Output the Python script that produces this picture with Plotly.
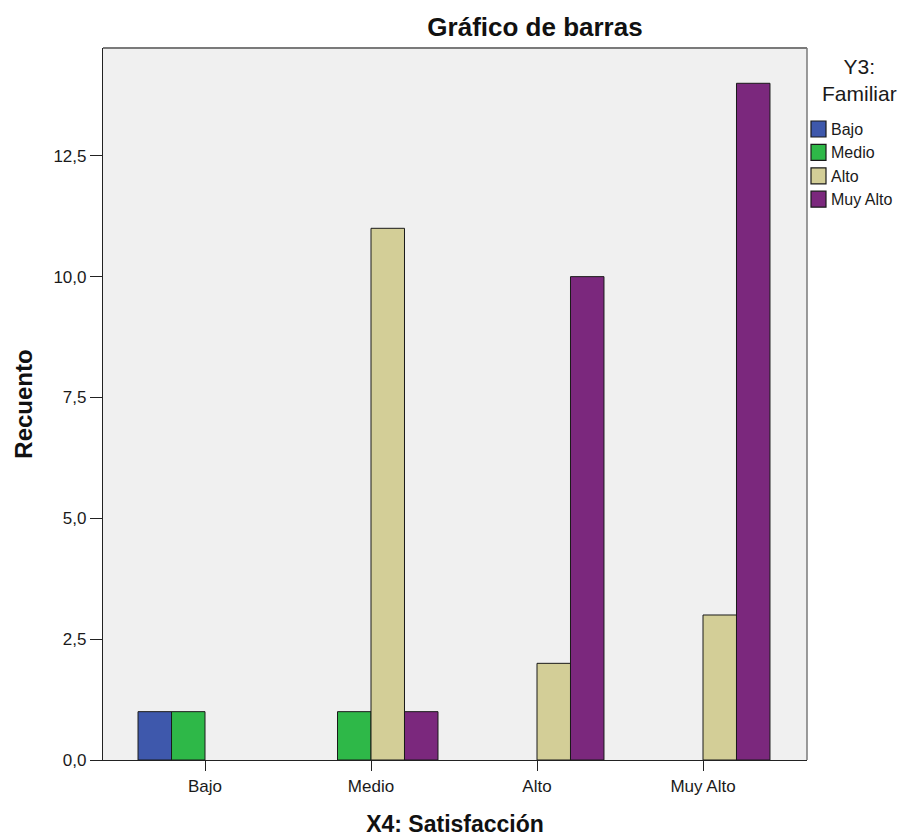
import plotly.graph_objects as go

# Categories of X4 (satisfaction) and counts per Y3 (family) level
categories = ["Bajo", "Medio", "Alto", "Muy Alto"]
series_names = ["Bajo", "Medio", "Alto", "Muy Alto"]
counts_bajo = [1, None, None, None]
counts_medio = [1, 1, None, None]
counts_alto = [None, 11, 2, 3]
counts_muy_alto = [None, 1, 10, 14]
y_ticks = [0, 2.5, 5, 7.5, 10, 12.5]

colors = ["#3E58AC", "#2EB848", "#D3CE97", "#7B287D"]
all_counts = [counts_bajo, counts_medio, counts_alto, counts_muy_alto]

FONT = "Liberation Sans, Arial, sans-serif"
INK = "#1a1a1a"

W, H = 907, 837
ml, mr, mt, mb = 103, 100, 48, 77
pw, ph = W - ml - mr, H - mt - mb


def px_x(p):
    """Pixel column -> paper x."""
    return (p - ml) / pw


def px_y(p):
    """Pixel row (from top) -> paper y."""
    return 1 - (p - mt) / ph


fig = go.Figure()
for name, vals, col in zip(series_names, all_counts, colors):
    fig.add_trace(go.Bar(
        x=categories, y=vals, name=name,
        marker=dict(color=col, line=dict(color=INK, width=1)),
        showlegend=False,
    ))

# Legend block on the right: title, colour swatches and labels
shapes = []
annotations = [
    dict(text="Y3:<br>Familiar", x=px_x(859), y=px_y(80), xref="paper", yref="paper",
         xanchor="center", yanchor="middle", showarrow=False, align="center",
         font=dict(family=FONT, size=21, color=INK)),
]
row0, row_step = 129, 23.4
for i, (name, col) in enumerate(zip(series_names, colors)):
    cy = row0 + i * row_step
    shapes.append(dict(type="rect", xref="paper", yref="paper",
                       x0=px_x(811), x1=px_x(826), y0=px_y(cy - 8), y1=px_y(cy + 8),
                       fillcolor=col, line=dict(color=INK, width=1.2)))
    annotations.append(dict(text=name, x=px_x(829), y=px_y(cy + 0.5), xref="paper", yref="paper",
                            xanchor="left", yanchor="middle", showarrow=False,
                            font=dict(family=FONT, size=16, color=INK)))

# Grey upper and right frame edges of the plot area
shapes.append(dict(type="line", xref="paper", yref="paper", x0=0, x1=1, y0=1, y1=1,
                   line=dict(color="#7a7a7a", width=2)))
shapes.append(dict(type="line", xref="paper", yref="paper", x0=1, x1=1, y0=0, y1=1,
                   line=dict(color="#7a7a7a", width=1.5)))

fig.update_layout(
    width=W, height=H,
    margin=dict(l=ml, r=mr, t=mt, b=mb, pad=0, autoexpand=False),
    paper_bgcolor="white",
    plot_bgcolor="#F0F0F0",
    barmode="group",
    bargap=0.193,
    bargroupgap=0,
    separators=",.",
    font=dict(family=FONT, size=17, color=INK),
    showlegend=False,
    shapes=shapes,
    annotations=annotations,
    xaxis=dict(
        range=[-0.6145, 3.6265],
        automargin=True,
        showline=True, linecolor="#222", linewidth=1.2, mirror=False,
        ticks="outside", ticklen=10, tickcolor="#222", tickwidth=1.2,
        showgrid=False, zeroline=False,
        tickfont=dict(family=FONT, size=17, color=INK),
        title=dict(text="<b>X4: Satisfacción</b>", standoff=24,
                   font=dict(family=FONT, size=23, color="#111")),
    ),
    yaxis=dict(
        range=[0, 14.73],
        automargin=True,
        tickvals=y_ticks, tickformat=".1f",
        showline=True, linecolor="#222", linewidth=1.2, mirror=False,
        ticks="outside", ticklen=12, tickcolor="#222", tickwidth=1.2,
        showgrid=False, zeroline=False,
        tickfont=dict(family=FONT, size=17, color=INK),
        title=dict(text="<b>Recuento</b>", standoff=14,
                   font=dict(family=FONT, size=24, color="#111")),
    ),
    title=dict(
        text="<b>Gráfico de barras</b>",
        x=px_x(535), xref="paper", xanchor="center",
        y=1 - 27 / H, yref="container", yanchor="middle",
        font=dict(family=FONT, size=26, color="#111"),
    ),
)

fig.write_html("out.html")
